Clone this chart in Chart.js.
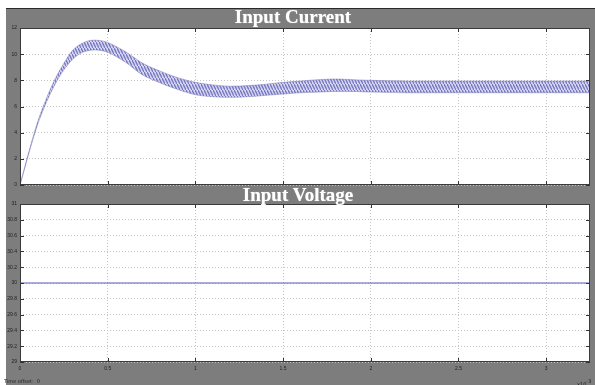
<!DOCTYPE html>
<html lang="en">
<head>
  <meta charset="UTF-8">
  <title>Input Current / Input Voltage</title>
  <style>
    body {
      margin: 0;
      background-color: #ffffff;
      font-family: 'DejaVu Sans', sans-serif;
    }
    .frame {
      position: relative;
      width: 595px;
      height: 385px;
      overflow: hidden;
    }
    .gray {
      position: absolute;
      left: 6px;
      top: 8px;
      right: 0;
      bottom: 0;
      background-color: #7d7d7d;
      border-top: 1px solid #2a2a2a;
    }
    canvas {
      position: absolute;
      left: 0;
      top: 0;
    }
    .title {
      position: absolute;
      color: #ffffff;
      font-family: 'Liberation Serif', serif;
      font-weight: bold;
      font-size: 19px;
      transform: translate(-50%, -50%);
      white-space: nowrap;
      text-shadow: 0 0 1px #cfcfcf;
    }
    .small {
      position: absolute;
      color: #222222;
      font-size: 5px;
      white-space: nowrap;
    }
  </style>
</head>
<body>
  <div class="frame">
    <div class="gray"></div>
    <canvas id="currentChart" width="595" height="385"></canvas>
    <canvas id="voltageChart" width="595" height="385"></canvas>
    <div class="title" style="left:293px; top:17px;">Input Current</div>
    <div class="title" style="left:298px; top:195px;">Input Voltage</div>
    <div class="small" style="left:4px; top:378px;">Time offset:&nbsp; 0</div>
    <div class="small" style="left:577px; top:378px;">x10<sup style="font-size:5px;">-3</sup></div>
  </div>

  <script src="https://cdn.jsdelivr.net/npm/chart.js"></script>
  <script>
    // time in ms (axis shows x10^-3 s)
    const timeMs = [0, 0.05, 0.1, 0.15, 0.2, 0.25, 0.3, 0.35, 0.4, 0.45, 0.5, 0.6, 0.7, 0.8, 0.9,
                    1.0, 1.1, 1.2, 1.3, 1.4, 1.5, 1.6, 1.7, 1.8, 1.9, 2.0, 2.2, 2.4, 2.6, 2.8, 3.0, 3.25];
    // ripple band of the input current (upper / lower envelope)
    const currentUpper = [0, 2.5, 4.8, 6.6, 8.1, 9.3, 10.3, 10.8, 11.05, 11.05, 10.9, 10.2, 9.3, 8.7, 8.2,
                          7.85, 7.65, 7.55, 7.6, 7.7, 7.85, 7.95, 8.05, 8.1, 8.05, 8.0, 7.95, 7.95, 7.95, 7.95, 7.95, 7.95];
    const currentLower = [0, 2.4, 4.6, 6.3, 7.7, 8.8, 9.6, 10.1, 10.3, 10.3, 10.15, 9.4, 8.4, 7.8, 7.3,
                          6.9, 6.75, 6.7, 6.75, 6.85, 6.95, 7.05, 7.1, 7.15, 7.15, 7.1, 7.05, 7.05, 7.05, 7.05, 7.05, 7.05];

    const voltageTime = [0, 3.25];
    const voltage = [30, 30];

    const xTicks = [0, 0.5, 1, 1.5, 2, 2.5, 3];
    const currentTicks = [0, 2, 4, 6, 8, 10, 12];
    const voltageTicks = [29, 29.2, 29.4, 29.6, 29.8, 30, 30.2, 30.4, 30.6, 30.8, 31];

    const toPoints = (xs, ys) => xs.map((x, i) => ({ x, y: ys[i] }));

    // stripy fill for the ripple band
    function ripplePattern() {
      const c = document.createElement('canvas');
      c.width = 3;
      c.height = 6;
      const g = c.getContext('2d');
      g.fillStyle = '#d4d4f0';
      g.fillRect(0, 0, 3, 6);
      g.strokeStyle = '#7676c2';
      g.lineWidth = 1.3;
      g.beginPath();
      g.moveTo(0, 0);
      g.lineTo(3, 6);
      g.stroke();
      return g.createPattern(c, 'repeat');
    }

    // white plot area, box and inward tick marks like a scope
    const scopeBox = {
      id: 'scopeBox',
      beforeDraw(chart) {
        const { ctx, chartArea: a } = chart;
        ctx.save();
        ctx.fillStyle = '#ffffff';
        ctx.fillRect(a.left, a.top, a.right - a.left, a.bottom - a.top);
        ctx.restore();
      },
      afterDraw(chart) {
        const { ctx, chartArea: a, scales } = chart;
        ctx.save();
        ctx.strokeStyle = '#333333';
        ctx.lineWidth = 1;
        ctx.beginPath();
        scales.x.ticks.forEach(t => {
          const px = Math.round(scales.x.getPixelForValue(t.value)) + 0.5;
          ctx.moveTo(px, a.bottom); ctx.lineTo(px, a.bottom - 4);
          ctx.moveTo(px, a.top); ctx.lineTo(px, a.top + 4);
        });
        scales.y.ticks.forEach(t => {
          const py = Math.round(scales.y.getPixelForValue(t.value)) + 0.5;
          ctx.moveTo(a.left, py); ctx.lineTo(a.left + 4, py);
          ctx.moveTo(a.right, py); ctx.lineTo(a.right - 4, py);
        });
        ctx.stroke();
        ctx.strokeStyle = '#3a3a3a';
        ctx.strokeRect(a.left + 0.5, a.top + 0.5, a.right - a.left - 1, a.bottom - a.top - 1);
        ctx.restore();
      }
    };

    const gridStyle = { color: '#c4c4c4', lineWidth: 1, drawTicks: false };
    const dashed = { display: false, dash: [1, 2] };

    function xScale(showLabels) {
      return {
        type: 'linear',
        min: 0,
        max: 3.25,
        afterBuildTicks: s => { s.ticks = xTicks.map(v => ({ value: v })); },
        grid: gridStyle,
        border: dashed,
        ticks: {
          display: showLabels,
          color: '#222222',
          font: { size: 5 },
          padding: 4,
          maxRotation: 0,
          callback: v => String(v)
        },
        afterFit: s => { s.height = showLabels ? 14 : 0; }
      };
    }

    function yScale(min, max, ticks) {
      return {
        min,
        max,
        afterBuildTicks: s => { s.ticks = ticks.map(v => ({ value: v })); },
        grid: gridStyle,
        border: dashed,
        ticks: {
          color: '#222222',
          font: { size: 5 },
          padding: 3,
          callback: v => String(Math.round(v * 10) / 10)
        },
        afterFit: s => { s.width = 20; }
      };
    }

    const common = {
      responsive: false,
      animation: false,
      events: [],
      plugins: { legend: { display: false }, tooltip: { enabled: false } },
      elements: { point: { radius: 0 } }
    };

    new Chart(document.getElementById('currentChart'), {
      type: 'line',
      data: {
        datasets: [
          {
            data: toPoints(timeMs, currentLower),
            borderColor: 'rgba(110,110,175,0.55)',
            borderWidth: 0.8,
            tension: 0.3,
            fill: false
          },
          {
            data: toPoints(timeMs, currentUpper),
            borderColor: 'rgba(110,110,175,0.55)',
            borderWidth: 0.8,
            tension: 0.3,
            fill: '-1',
            backgroundColor: ripplePattern()
          }
        ]
      },
      options: {
        ...common,
        layout: { padding: { top: 28, left: 0, right: 5, bottom: 200 } },
        scales: { x: xScale(false), y: yScale(0, 12, currentTicks) }
      },
      plugins: [scopeBox]
    });

    new Chart(document.getElementById('voltageChart'), {
      type: 'line',
      data: {
        datasets: [{
          data: toPoints(voltageTime, voltage),
          borderColor: '#5a5ab8',
          borderWidth: 1.2,
          fill: false
        }]
      },
      options: {
        ...common,
        layout: { padding: { top: 204, left: 0, right: 5, bottom: 9 } },
        scales: { x: xScale(true), y: yScale(29, 31, voltageTicks) }
      },
      plugins: [scopeBox]
    });
  </script>
</body>
</html>
